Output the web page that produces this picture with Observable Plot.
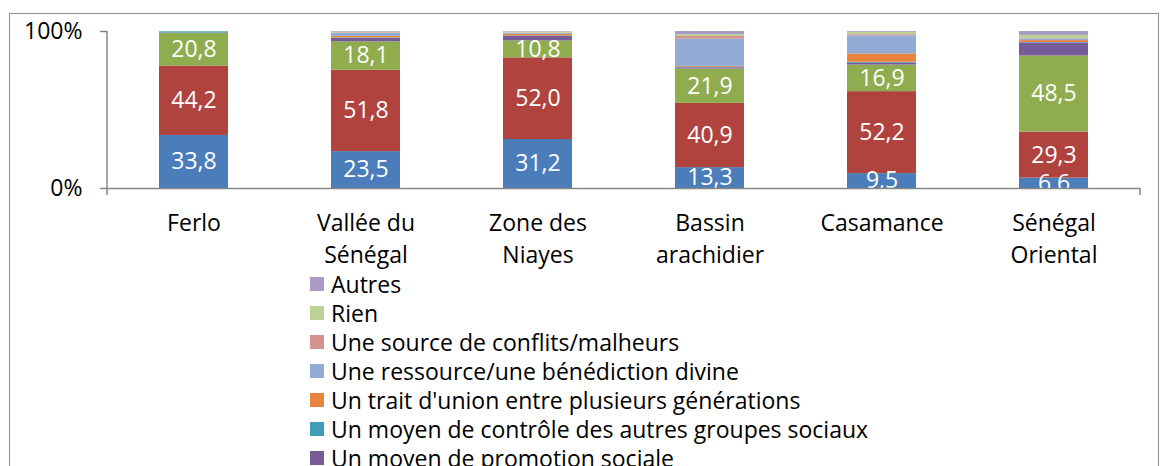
<!DOCTYPE html>
<html>
<head>
<meta charset="utf-8">
<script src="https://cdn.jsdelivr.net/npm/d3@7"></script>
<script src="https://cdn.jsdelivr.net/npm/@observablehq/plot@0.6"></script>
<style>
  html, body { margin: 0; padding: 0; background: #fff; }
  body { width: 1167px; height: 466px; overflow: hidden; position: relative; font-family: "Open Sans", Lato, sans-serif; }
  #frame { position: absolute; left: 9px; top: 13px; width: 1150px; height: 520px; border: 1.5px solid #8c8c8c; box-sizing: border-box; }
  #chart { position: absolute; left: 0; top: 0; }
  #legend { position: absolute; left: 310px; top: 269px; }
  .row { display: flex; align-items: center; height: 29px; font-size: 23px; color: #000; white-space: nowrap; }
  .sw { width: 14px; height: 14px; margin-right: 7px; flex: none; }
</style>
</head>
<body>
<div id="frame"></div>
<div id="chart"></div>
<div id="legend"></div>
<script>
// ---- data ----
const regions = ["Ferlo", "Vallée du Sénégal", "Zone des Niayes", "Bassin arachidier", "Casamance", "Sénégal Oriental"];
const regionLabels = ["Ferlo", "Vallée du\nSénégal", "Zone des\nNiayes", "Bassin\narachidier", "Casamance", "Sénégal\nOriental"];

// series, bottom to top of each stack
const seriesNames = [
  "Série 1",
  "Série 2",
  "Série 3",
  "Un moyen de promotion sociale",
  "Un moyen de contrôle des autres groupes sociaux",
  "Un trait d'union entre plusieurs générations",
  "Une ressource/une bénédiction divine",
  "Une source de conflits/malheurs",
  "Rien",
  "Autres"
];
const seriesColors = ["#4a7dba", "#b1433f", "#8fad4e", "#775a98", "#3f9db8", "#e8843e", "#93acd6", "#d49290", "#bcd295", "#a999c4"];

const serie1     = [33.8, 23.5, 31.2, 13.3, 9.5, 6.6];
const serie2     = [44.2, 51.8, 52.0, 40.9, 52.2, 29.3];
const serie3     = [20.8, 18.1, 10.8, 21.9, 16.9, 48.5];
const promotion  = [0.2, 2.2, 3.0, 0.8, 1.3, 8.3];
const controle   = [0.8, 0.3, 0.2, 0.2, 0.5, 0.3];
const traitUnion = [0.0, 1.0, 1.0, 0.5, 5.3, 1.2];
const ressource  = [0.1, 2.0, 0.6, 17.5, 11.5, 1.0];
const conflits   = [0.0, 0.3, 0.2, 1.7, 0.8, 0.3];
const rien       = [0.1, 0.5, 0.8, 1.2, 1.5, 2.0];
const autres     = [0.0, 0.3, 0.2, 2.0, 0.5, 2.5];

const seriesValues = [serie1, serie2, serie3, promotion, controle, traitUnion, ressource, conflits, rien, autres];
const labelledSeries = ["Série 1", "Série 2", "Série 3"];

const legendItems = [
  "Autres",
  "Rien",
  "Une source de conflits/malheurs",
  "Une ressource/une bénédiction divine",
  "Un trait d'union entre plusieurs générations",
  "Un moyen de contrôle des autres groupes sociaux",
  "Un moyen de promotion sociale"
];

const yTicks = [0, 100];

// ---- table ----
const table = [];
seriesNames.forEach((s, i) => {
  regions.forEach((r, j) => table.push({region: r, series: s, value: seriesValues[i][j]}));
});
const labelRows = table.filter(d => labelledSeries.includes(d.series));

const W = 1167, mL = 107, mR = 27, mT = 31, mB = 82, H = 270;
const axisColor = "#868686";

const chart = Plot.plot({
  width: W, height: H,
  marginLeft: mL, marginRight: mR, marginTop: mT, marginBottom: mB,
  style: {fontFamily: "'Open Sans', Lato, sans-serif", background: "transparent", overflow: "visible"},
  x: {domain: regions, paddingInner: 0.6, paddingOuter: 0.3, label: null},
  y: {domain: [0, 100], label: null},
  color: {domain: seriesNames, range: seriesColors},
  marks: [
    Plot.barY(table, Plot.stackY({order: seriesNames}, {x: "region", y: "value", fill: "series"})),
    Plot.text(labelRows, Plot.stackY({order: seriesNames}, {
      x: "region", y: "value", z: "series",
      text: d => d.value.toFixed(1).replace(".", ","),
      fill: "white", fontSize: 23, clip: true
    })),
    Plot.ruleY([0], {stroke: axisColor, strokeWidth: 1.5}),
    Plot.axisY({ticks: yTicks, tickFormat: d => d + "%", tickSize: 7, tickPadding: 18, fontSize: 23, stroke: axisColor, strokeWidth: 1.5, fill: "#000", label: null}),
    Plot.axisX({tickSize: 0, tickPadding: 20, fontSize: 23, lineHeight: 1.38, fill: "#000", label: null,
      tickFormat: d => regionLabels[regions.indexOf(d)]})
  ]
});

// axis line decorations (vertical axis line and category-end ticks)
const ys = chart.scale("y");
const y0 = ys.apply(0), y100 = ys.apply(100);
const xLeft = mL, xRight = W - mR;
const g = d3.select(chart).append("g").attr("stroke", axisColor).attr("stroke-width", 1.5);
g.append("line").attr("x1", xLeft).attr("x2", xLeft).attr("y1", y100).attr("y2", y0 + 7);
g.append("line").attr("x1", xRight).attr("x2", xRight).attr("y1", y0).attr("y2", y0 + 7);

document.getElementById("chart").appendChild(chart);

// legend
const legend = document.getElementById("legend");
legendItems.forEach(name => {
  const row = document.createElement("div");
  row.className = "row";
  const sw = document.createElement("span");
  sw.className = "sw";
  sw.style.background = seriesColors[seriesNames.indexOf(name)];
  const t = document.createElement("span");
  t.textContent = name;
  row.appendChild(sw); row.appendChild(t);
  legend.appendChild(row);
});
</script>
</body>
</html>
